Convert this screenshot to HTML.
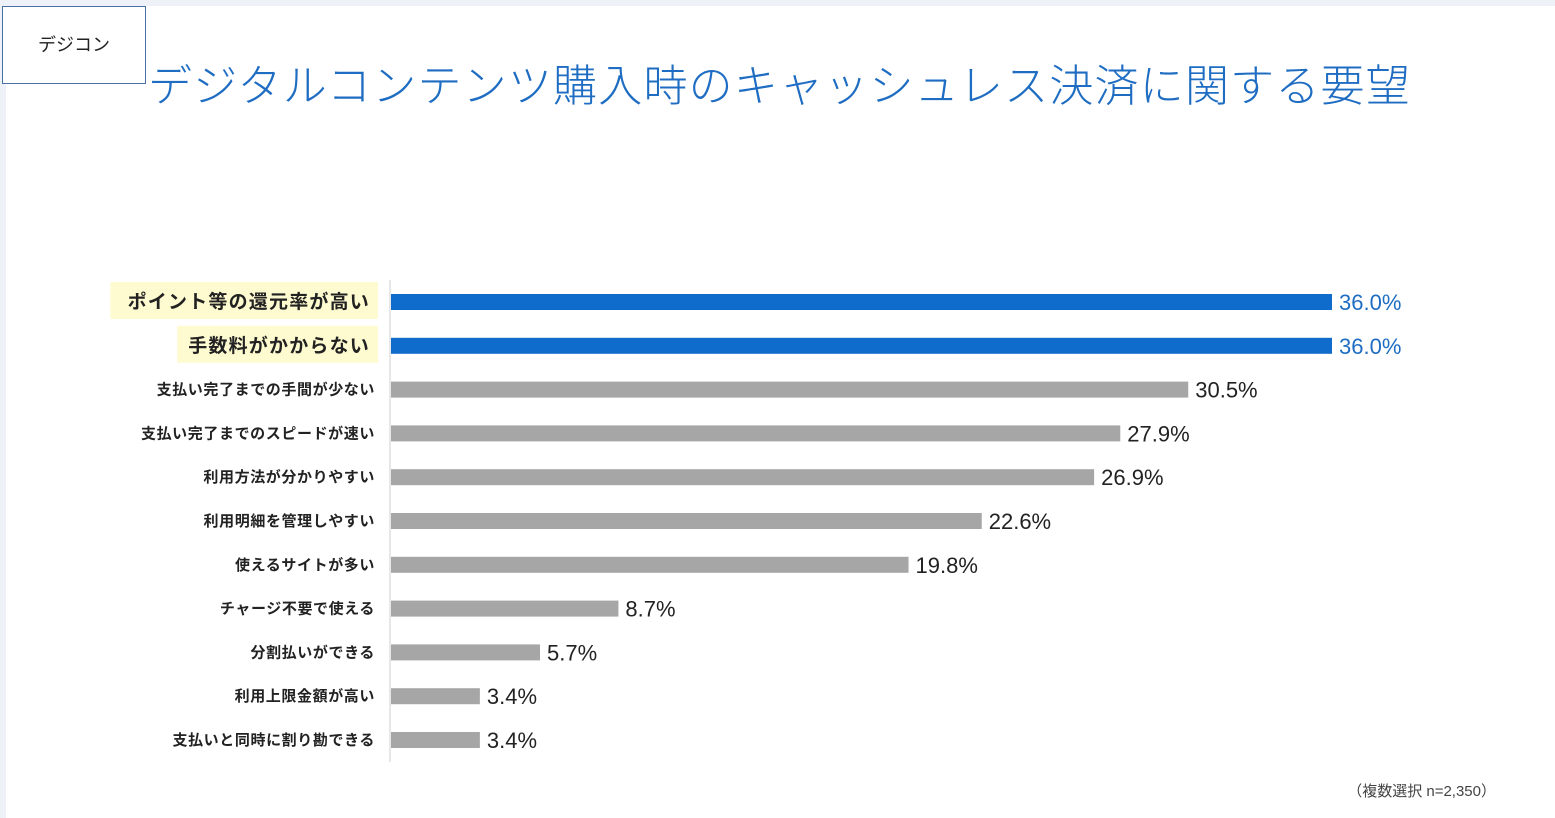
<!DOCTYPE html>
<html><head><meta charset="utf-8"><style>
body{margin:0;width:1555px;height:818px;background:#eef2f8;overflow:hidden;font-family:"Liberation Sans","Noto Sans CJK JP",sans-serif}
#slide{position:absolute;left:6px;top:6px;width:1549px;height:812px;background:#fff}
#tag{position:absolute;left:2px;top:6px;width:142px;height:76px;border:1px solid #4a6fa5;background:#fff;font-size:18px;color:#222;text-align:center;line-height:74px;font-family:"Noto Sans CJK JP",sans-serif}
#title{position:absolute;left:148px;top:50px;font-size:44px;color:#1f6dc2;letter-spacing:1.2px;white-space:nowrap;font-family:"Noto Sans CJK JP",sans-serif;font-weight:300}
svg{position:absolute;left:0;top:0}
</style></head><body>
<div id="slide"></div>
<div id="tag">デジコン</div>
<div id="title">デジタルコンテンツ購入時のキャッシュレス決済に関する要望</div>
<svg id="chart" width="1555" height="818"></svg>
<script>
const categories=["ポイント等の還元率が高い","手数料がかからない","支払い完了までの手間が少ない","支払い完了までのスピードが速い","利用方法が分かりやすい","利用明細を管理しやすい","使えるサイトが多い","チャージ不要で使える","分割払いができる","利用上限金額が高い","支払いと同時に割り勘できる"];
const values=[36.0,36.0,30.5,27.9,26.9,22.6,19.8,8.7,5.7,3.4,3.4];
const highlighted=[true,true,false,false,false,false,false,false,false,false,false];
const NS="http://www.w3.org/2000/svg";
const svg=document.getElementById('chart');
const x0=391, pxPer=941/36, y0=302, step=43.8;
const xs=v=>x0+v*pxPer, ys=i=>y0+i*step;
function mk(t,a){const e=document.createElementNS(NS,t);for(const k in a)e.setAttribute(k,a[k]);svg.appendChild(e);return e;}
const ax=mk('line',{x1:390,x2:390,y1:280,y2:762,stroke:'#cfcfcf','stroke-width':1});


categories.forEach((c,i)=>{
  const y=ys(i),v=values[i],hi=highlighted[i];
  if(hi){
    const w=c.length*22.3+0;
    const bg=mk('rect',{x:378-w,y:y-20,width:w,height:37,fill:'#fffbd0'});
    
    
  }
  const lb=mk('text',{x:hi?370:375,y:y+(hi?6:5),'text-anchor':'end','font-size':hi?19:15,'font-weight':'bold',fill:'#222','letter-spacing':hi?1.2:0.6,'font-family':'"Noto Sans CJK JP",sans-serif'});
  lb.textContent=c;
  
  
  const b=mk('rect',{x:x0,y:y-8,width:xs(v)-x0,height:16,fill:hi?'#0f6bcc':'#a6a6a6'});
  
  
  const t=mk('text',{x:xs(v)+7,y:y+8,'font-size':22,fill:hi?'#1f6dc2':'#222'});
  t.textContent=v.toFixed(1)+'%';
  
  
});
const n=mk('text',{x:1496,y:796,'text-anchor':'end','font-size':15,fill:'#444','font-family':'"Liberation Sans","Noto Sans CJK JP",sans-serif'});
n.textContent='（複数選択 n=2,350）';


</script>
</body></html>
